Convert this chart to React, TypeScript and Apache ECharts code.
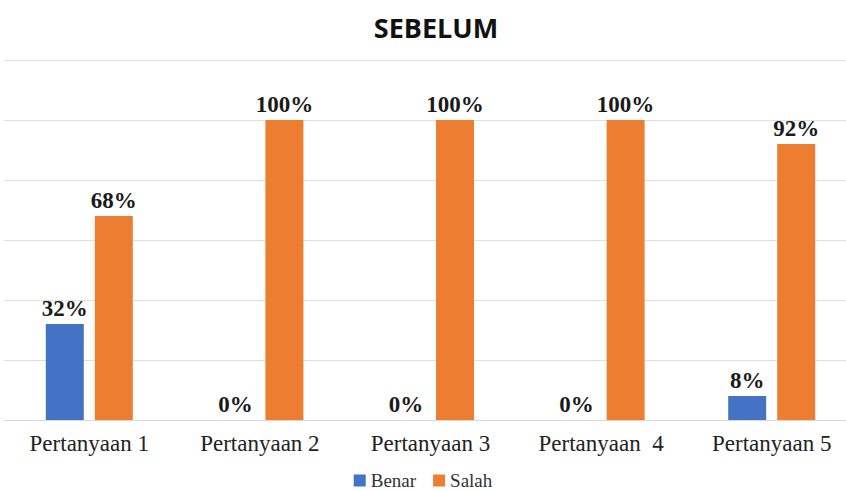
import React, { useEffect, useRef } from "react";
import * as echarts from "echarts";

const categories = ["Pertanyaan 1", "Pertanyaan 2", "Pertanyaan 3", "Pertanyaan  4", "Pertanyaan 5"];
const benar = [32, 0, 0, 0, 8];
const salah = [68, 100, 100, 100, 92];
const seriesNames = ["Benar", "Salah"];

const SERIF = "Liberation Serif";

export default function App() {
  const ref = useRef<HTMLDivElement>(null);
  useEffect(() => {
    if (!ref.current) return;
    const chart = echarts.init(ref.current, undefined, { renderer: "svg" });
    const labelStyle = {
      show: true,
      position: "top" as const,
      distance: 4,
      formatter: "{c}%",
      fontFamily: SERIF,
      fontWeight: "bold" as const,
      fontSize: 23,
      color: "#1a1a1a",
    };
    chart.setOption({
      animation: false,
      backgroundColor: "#ffffff",
      title: {
        text: "SEBELUM",
        left: 431,
        textAlign: "center",
        top: 9,
        textStyle: { fontFamily: "Open Sans", fontWeight: "bold", fontSize: 27, color: "#111" },
      },
      legend: {
        data: seriesNames,
        left: "center",
        top: 471,
        padding: 0,
        itemWidth: 12,
        itemHeight: 12,
        itemGap: 17,
        icon: "rect",
        textStyle: { fontFamily: SERIF, fontSize: 19, lineHeight: 18, color: "#333" },
      },
      grid: { left: 4, width: 853, top: 60, height: 360, containLabel: false, outerBoundsMode: "none" },
      xAxis: {
        type: "category",
        data: categories,
        axisLine: { lineStyle: { color: "#d9d9d9" } },
        axisTick: { show: false },
        axisLabel: {
          margin: 12,
          fontFamily: SERIF,
          fontSize: 23,
          color: "#222",
          interval: 0,
        },
      },
      yAxis: {
        type: "value",
        min: 0,
        max: 120,
        interval: 20,
        axisLabel: { show: false },
        axisLine: { show: false },
        axisTick: { show: false },
        splitLine: { lineStyle: { color: "#e0e0e0" } },
      },
      series: [
        {
          name: seriesNames[0],
          type: "bar",
          data: benar,
          barWidth: 38,
          barGap: "29%",
          itemStyle: { color: "#4472C4" },
          label: labelStyle,
        },
        {
          name: seriesNames[1],
          type: "bar",
          data: salah,
          barWidth: 38,
          barGap: "29%",
          itemStyle: { color: "#ED7D31" },
          label: labelStyle,
        },
      ],
    });
    return () => chart.dispose();
  }, []);
  return <div ref={ref} style={{ width: 846, height: 491, position: "absolute", left: 0, top: 0 }} />;
}
